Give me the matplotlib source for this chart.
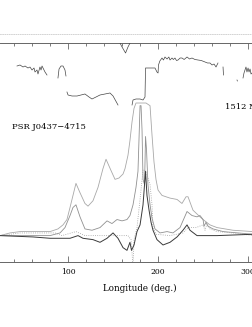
import numpy as np
import matplotlib
matplotlib.use('Agg')
import matplotlib.pyplot as plt
from matplotlib.ticker import MultipleLocator

# longitude (deg) and profiles, intensity normalised to the peak of I
i_lon = [24.4, 35.5, 46.6, 61.1, 80.0, 88.8, 94.4, 98.8, 102.2, 108.8, 113.3, 118.8, 122.2, 127.7,
         133.3, 138.8, 142.2, 145.5, 148.8, 152.2, 156.6, 161.1, 163.3, 166.6, 168.8, 171.1, 173.3,
         175.5, 181.1, 186.6, 191.1, 193.3, 195.5, 197.7, 200.0, 204.4, 213.3, 221.1, 226.6, 231.1,
         233.3, 235.5, 238.8, 246.6, 250.0, 257.7, 265.5, 283.3, 305.5]
i_val = [0.01, 0.03, 0.04, 0.04, 0.04, 0.06, 0.09, 0.13, 0.22, 0.40, 0.33, 0.25, 0.23, 0.27,
         0.37, 0.51, 0.58, 0.53, 0.48, 0.43, 0.44, 0.47, 0.51, 0.61, 0.72, 0.86, 0.96,
         1.00, 1.00, 1.00, 0.98, 0.76, 0.56, 0.43, 0.35, 0.31, 0.29, 0.28, 0.25, 0.30,
         0.30, 0.26, 0.20, 0.15, 0.13, 0.09, 0.07, 0.05, 0.04]

l_lon = [24.4, 46.6, 80.0, 91.1, 96.6, 102.2, 105.5, 108.8, 113.3, 118.8, 126.6, 135.5, 143.3,
         148.8, 154.4, 160.0, 165.5, 168.8, 172.2, 175.5, 177.7, 178.8, 180.0, 181.1, 182.2,
         183.3, 185.0, 186.1, 187.2, 188.8, 191.1, 193.3, 196.6, 202.2, 210.0, 216.6, 224.4,
         232.2, 237.7, 243.3, 246.6, 250.0, 251.1, 253.3, 255.5, 261.1, 272.2, 305.5]
l_val = [0.01, 0.01, 0.01, 0.03, 0.07, 0.16, 0.22, 0.24, 0.15, 0.06, 0.05, 0.07, 0.12,
         0.10, 0.13, 0.12, 0.13, 0.16, 0.24, 0.37, 0.49, 0.72, 0.98, 0.98, 0.80,
         0.43, 0.39, 0.75, 0.65, 0.39, 0.24, 0.14, 0.06, 0.03, 0.04, 0.03, 0.07,
         0.19, 0.16, 0.15, 0.16, 0.13, 0.08, 0.11, 0.08, 0.06, 0.04, 0.02]

v_lon = [24.4, 61.1, 80.0, 94.4, 102.2, 111.1, 116.6, 127.7, 135.5, 143.3, 150.0, 155.5, 161.1,
         165.5, 168.8, 170.5, 173.3, 176.6, 180.0, 183.3, 186.1, 187.7, 190.0, 192.2, 194.4,
         198.8, 205.5, 213.3, 221.1, 227.7, 232.2, 235.5, 243.3, 250.0, 265.5, 305.5]
v_val = [0.01, 0.00, -0.01, -0.01, -0.01, 0.01, -0.01, -0.02, -0.04, -0.01, 0.03, -0.01, -0.08,
         -0.10, -0.04, -0.10, -0.06, 0.04, 0.09, 0.24, 0.49, 0.31, 0.20, 0.11, 0.05,
         -0.02, -0.06, -0.04, 0.00, 0.05, 0.09, 0.05, 0.01, 0.01, 0.01, 0.02]

d_lon = [24.4, 35.5, 46.6, 68.8, 85.5, 93.3, 108.8, 118.8, 146.6, 166.6, 170.0, 172.2, 173.3,
         176.6, 180.0, 183.3, 186.6, 188.8, 191.1, 193.3, 194.4, 197.7, 213.3, 227.7, 233.3,
         242.2, 250.0, 252.2, 254.4, 257.7, 265.5, 283.3, 305.5]
d_val = [0.01, 0.02, 0.03, 0.03, 0.03, 0.01, 0.04, 0.01, 0.01, 0.01, -0.02, -0.22, -0.02,
         0.07, 0.28, 0.50, 0.49, 0.44, 0.39, 0.24, 0.07, 0.02, 0.01, 0.03, 0.07,
         0.07, 0.09, 0.05, 0.10, 0.06, 0.04, 0.03, 0.01]

# position angle (deg), nan = gap between segments
pa_lon = [43.3, 46.6, 50.0, 52.2, 55.5, 57.7, 60.0, 62.2, 63.3, 65.5, 66.6, 68.8, 70.0, 71.1, 73.3, 74.4, 76.6, np.nan,
          88.8, 90.0, 92.2, 94.4, 96.6, 97.7, np.nan,
          98.8, 100.0, 104.4, 110.0, 118.8, 123.3, 126.6, 131.1, 135.5, 141.1, 146.6, 150.0, 155.5, np.nan,
          156.6, 160.0, 163.9, 166.6, 170.0, np.nan,
          171.1, 172.2, 175.5, 180.0, 183.3, 185.5, 186.1, 191.1, 196.6, 198.8, 200.0, 200.5, 202.0, 204.4,
          206.0, 207.7, 210.0, 212.0, 213.3, 215.5, 217.0, 218.8, 220.5, 222.2, 224.5, 226.6, 229.0, 232.2,
          235.0, 237.7, 241.0, 244.4, 248.0, 252.2, 255.0, 257.7, 260.0, 262.2, 264.4, 266.6, np.nan,
          272.2, 272.7, np.nan,
          287.7, 288.2, np.nan,
          294.4, 295.5, 296.6, 297.7, 298.8, 300.0, 301.1, 302.2, 303.3, 305.5]
pa_deg = [44, 46, 42, 44, 40, 42, 36, 40, 32, 36, 28, 42, 36, 44, 36, 32, 26, np.nan,
          20, 38, 44, 44, 36, 24, np.nan,
          -8, -14, -16, -16, -12, -18, -22, -18, -14, -12, -10, -16, -34, np.nan,
          94, 82, 70, 82, 94, np.nan,
          -34, -24, -22, -22, -24, -18, 40, 40, 40, 32, 30, 46, 54, 60,
          56, 62, 58, 62, 56, 60, 57, 60, 55, 56, 60, 60, 57, 62,
          58, 60, 57, 56, 55, 52, 50, 50, 46, 48, 42, 50, np.nan,
          42, 26, np.nan,
          16, 14, np.nan,
          20, 30, 36, 42, 32, 40, 32, 38, 28, 32]

plt.rcParams['font.family'] = 'DejaVu Serif'

fig = plt.figure(figsize=(2.53, 3.27), dpi=100)

# faint bottom edge of the panel above
top = fig.add_axes([0, 0.896, 1, 0.1])
for s in ['top', 'left', 'right']:
    top.spines[s].set_visible(False)
top.spines['bottom'].set_linestyle(':')
top.spines['bottom'].set_color('#cccccc')
top.spines['bottom'].set_linewidth(0.6)
top.set_xticks([])
top.set_yticks([])
top.patch.set_alpha(0)

ax = fig.add_axes([0, 0.1988, 1, 0.6697])
ax.plot(i_lon, i_val, '-', color='#a8a8a8', lw=0.6)
ax.plot(l_lon, l_val, '-', color='#909090', lw=0.6)
ax.plot(d_lon, d_val, ':', color='#a0a0a0', lw=0.6)
ax.plot(v_lon, v_val, '-', color='#3a3a3a', lw=0.7)
ax.set_xlim(24.4, 305.5)
ax.set_ylim(-0.187, 1.448)
ax.spines['left'].set_visible(False)
ax.spines['right'].set_visible(False)
for s in ['top', 'bottom']:
    ax.spines[s].set_color('#666666')
    ax.spines[s].set_linewidth(0.7)
ax.set_yticks([])
ax.xaxis.set_major_locator(MultipleLocator(100))
ax.xaxis.set_minor_locator(MultipleLocator(20))
ax.tick_params(axis='x', which='both', direction='in', top=True, color='#666666', width=0.6)
ax.tick_params(axis='x', which='major', length=4, labelsize=5.5, pad=4)
ax.tick_params(axis='x', which='minor', length=2.5)
ax.set_xlabel('Longitude (deg.)', fontsize=6.3)
ax.xaxis.set_label_coords(140 / 253, -22 / 219.0)

ax.text(37.7, 0.82, 'PSR J0437\u22124715', fontsize=6, va='center', ha='left')
ax.text(274.4, 0.97, '1512 MHz', fontsize=6, va='center', ha='left')

pa = ax.twinx()
pa.plot(pa_lon, pa_deg, '-', color='#454545', lw=0.5)
pa.set_ylim(-348, 90)
pa.set_yticks([])
for s in pa.spines.values():
    s.set_visible(False)

fig.savefig('out.png', dpi=100)
